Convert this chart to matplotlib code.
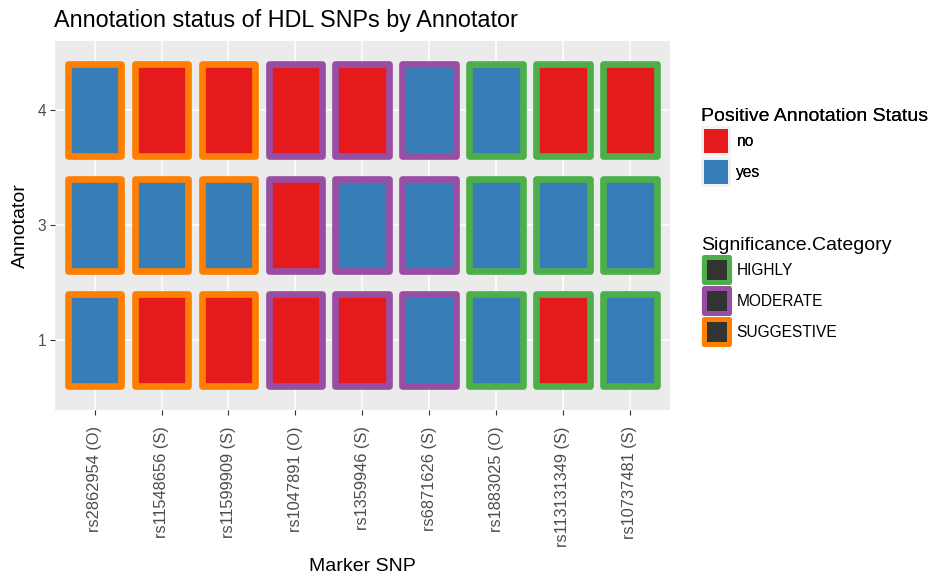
import matplotlib
matplotlib.use('Agg')
import matplotlib.pyplot as plt
from matplotlib.patches import Rectangle, Patch
from matplotlib.legend_handler import HandlerBase

plt.rcParams['font.family'] = ['Liberation Sans', 'DejaVu Sans']

# data
snps = ['rs2862954 (O)', 'rs11548656 (S)', 'rs11599909 (S)', 'rs1047891 (O)',
        'rs1359946 (S)', 'rs6871626 (S)', 'rs1883025 (O)', 'rs113131349 (S)',
        'rs10737481 (S)']
annotators = ['1', '3', '4']
significance = ['SUGGESTIVE', 'SUGGESTIVE', 'SUGGESTIVE',
                'MODERATE', 'MODERATE', 'MODERATE',
                'HIGHLY', 'HIGHLY', 'HIGHLY']
status_1 = ['yes', 'no', 'no', 'no', 'no', 'yes', 'yes', 'no', 'yes']
status_3 = ['yes', 'yes', 'yes', 'no', 'yes', 'yes', 'yes', 'yes', 'yes']
status_4 = ['yes', 'no', 'no', 'no', 'no', 'yes', 'yes', 'no', 'no']
status = {'1': status_1, '3': status_3, '4': status_4}

fill_colors = {'no': '#E41A1C', 'yes': '#377EB8'}
border_colors = {'HIGHLY': '#4DAF4A', 'MODERATE': '#984EA3', 'SUGGESTIVE': '#FF7F00'}

W, H = 932, 579
fig = plt.figure(figsize=(W / 100, H / 100), dpi=100)
left, right, top, bottom = 54.5, 670, 41, 409.5
ax = fig.add_axes([left / W, 1 - bottom / H, (right - left) / W, (bottom - top) / H])
ax.set_facecolor('#EBEBEB')
for s in ax.spines.values():
    s.set_visible(False)

# tiles
for j, a in enumerate(annotators):
    for i, snp in enumerate(snps):
        ax.add_patch(Rectangle((i - 0.4, j - 0.4), 0.8, 0.8,
                               facecolor=fill_colors[status[a][i]],
                               edgecolor=border_colors[significance[i]],
                               linewidth=4.8, joinstyle='round', zorder=3))

ax.set_xlim(-0.6, len(snps) - 0.4)
ax.set_ylim(-0.6, len(annotators) - 0.4)
ax.set_xticks(range(len(snps)))
ax.set_xticklabels(snps, rotation=90)
ax.set_yticks(range(len(annotators)))
ax.set_yticklabels(annotators)
ax.grid(True, color='white', linewidth=1.1, zorder=0)
ax.set_axisbelow(True)
ax.tick_params(length=3.5, width=0.8, color='#333333', labelcolor='#4D4D4D',
               labelsize=11.2, pad=2.5)
ax.tick_params(axis='x', labelsize=11.8, pad=8.5)

ax.set_xlabel('Marker SNP', fontsize=14, labelpad=8)
ax.set_ylabel('Annotator', fontsize=14, labelpad=6)
ax.set_title('Annotation status of HDL SNPs by Annotator', fontsize=16.8,
             loc='left', pad=10)


class KeyHandler(HandlerBase):
    # grey key background with the swatch drawn inside
    def __init__(self, inset, lw, bg):
        super().__init__()
        self.inset = inset
        self.lw = lw
        self.bg = bg

    def create_artists(self, legend, orig_handle, xdescent, ydescent,
                       width, height, fontsize, trans):
        x0, y0 = -xdescent, -ydescent
        arts = []
        if self.bg:
            arts.append(Rectangle((x0, y0), width, height, facecolor=self.bg,
                                  edgecolor='none', transform=trans))
        d = self.inset
        arts.append(Rectangle((x0 + d, y0 + d), width - 2 * d, height - 2 * d,
                              facecolor=orig_handle.get_facecolor(),
                              edgecolor=orig_handle.get_edgecolor(),
                              linewidth=self.lw, joinstyle='round', transform=trans))
        return arts


fill_handles = [Patch(facecolor=fill_colors[k], edgecolor='none', label=k)
                for k in ['no', 'yes']]
border_handles = [Patch(facecolor='#333333', edgecolor=border_colors[k], label=k)
                  for k in ['HIGHLY', 'MODERATE', 'SUGGESTIVE']]

key_w = 21.6 / 11.2
key_h = 2.59
leg1 = fig.legend(handles=fill_handles, loc='upper left',
                  bbox_to_anchor=(701 / W, 1 - 108 / H), frameon=False,
                  fontsize=11.2, title='Positive Annotation Status',
                  title_fontsize=14, alignment='left', borderpad=0,
                  borderaxespad=0, handlelength=key_w, handleheight=key_h,
                  handletextpad=0.35, labelspacing=0.06,
                  handler_map={Patch: KeyHandler(2.4, 0, '#F2F2F2')})
fig.add_artist(leg1)
leg2 = fig.legend(handles=border_handles, loc='upper left',
                  bbox_to_anchor=(701 / W, 1 - 237 / H), frameon=False,
                  fontsize=11.2, title='Significance.Category',
                  title_fontsize=14, alignment='left', borderpad=0,
                  borderaxespad=0, handlelength=key_w, handleheight=key_h,
                  handletextpad=0.35, labelspacing=0.06,
                  handler_map={Patch: KeyHandler(1.8, 3.6, '#F2F2F2')})

fig.savefig('out.png', dpi=100)
